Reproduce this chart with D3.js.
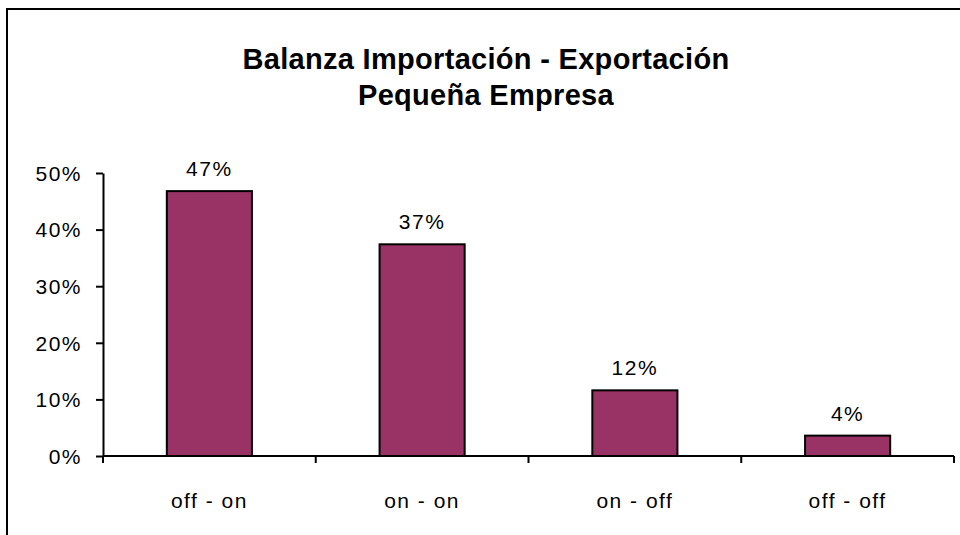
<!DOCTYPE html>
<html>
<head>
<meta charset="utf-8">
<script src="https://cdn.jsdelivr.net/npm/d3@7"></script>
<style>
    html, body { margin: 0; padding: 0; background: #fff; overflow: hidden; }
    svg { display: block; }
    svg text { font-family: "Liberation Sans", Arial, sans-serif; fill: #000; }
</style>
</head>
<body>
<svg id="chart"></svg>
<script>
const categories = ["off - on", "on - on", "on - off", "off - off"];
const shares = [46.8, 37.4, 11.6, 3.6];
const yTicks = [0, 10, 20, 30, 40, 50];
const titleLines = ["Balanza Importación - Exportación", "Pequeña Empresa"];

const width = 960,
    height = 535,
    margin = { top: 173, right: 6, bottom: 79, left: 103 },
    innerWidth = width - margin.left - margin.right,
    innerHeight = height - margin.top - margin.bottom;

const svg = d3.select("#chart")
    .attr("width", width)
    .attr("height", height)
    .attr("viewBox", `0 0 ${width} ${height}`);

// outer frame: only left and top edges are in view
svg.append("path")
    .attr("d", `M7,${height}V9H${width}`)
    .attr("fill", "none")
    .attr("stroke", "#000")
    .attr("stroke-width", 2);

svg.append("g")
    .selectAll("text")
    .data(titleLines)
    .enter()
    .append("text")
    .attr("x", 486)
    .attr("y", (d, i) => 69 + i * 36)
    .attr("text-anchor", "middle")
    .style("font-size", "29px")
    .style("font-weight", "bold")
    .style("letter-spacing", "0.3px")
    .text(d => d);

const x = d3.scaleBand()
    .domain(categories)
    .range([0, innerWidth])
    .paddingInner(0.6)
    .paddingOuter(0.3);

const y = d3.scaleLinear()
    .domain([0, 50])
    .range([innerHeight, 0]);

const g = svg.append("g")
    .attr("transform", `translate(${margin.left},${margin.top})`);

g.append("g")
    .selectAll("rect")
    .data(shares)
    .enter()
    .append("rect")
    .attr("x", (d, i) => x(categories[i]))
    .attr("y", d => y(d))
    .attr("width", x.bandwidth())
    .attr("height", d => innerHeight - y(d))
    .attr("fill", "#993366")
    .attr("stroke", "#000")
    .attr("stroke-width", 2);

g.append("g")
    .selectAll("text")
    .data(shares)
    .enter()
    .append("text")
    .attr("x", (d, i) => x(categories[i]) + x.bandwidth() / 2)
    .attr("y", d => y(d) - 15)
    .attr("text-anchor", "middle")
    .style("font-size", "21px")
    .style("letter-spacing", "1.5px")
    .text(d => Math.round(d) + "%");

// y axis
const yAxis = g.append("g")
    .call(d3.axisLeft(y).tickValues(yTicks).tickSize(7).tickSizeOuter(0).tickFormat(d => d + "%"));
yAxis.select(".domain").attr("stroke-width", 2);
yAxis.selectAll(".tick line").attr("stroke-width", 2);
yAxis.selectAll(".tick text")
    .attr("x", -21)
    .attr("dy", "0.35em")
    .style("font-size", "21px")
    .style("letter-spacing", "1.5px");

// x axis: ticks sit between categories
const step = innerWidth / categories.length;
const xAxis = g.append("g")
    .attr("transform", `translate(0,${innerHeight})`);
xAxis.append("line")
    .attr("x1", 0)
    .attr("x2", innerWidth)
    .attr("stroke", "#000")
    .attr("stroke-width", 2);
xAxis.selectAll(".sep")
    .data(d3.range(categories.length + 1))
    .enter()
    .append("line")
    .attr("class", "sep")
    .attr("x1", i => i * step)
    .attr("x2", i => i * step)
    .attr("y1", 0)
    .attr("y2", 7)
    .attr("stroke", "#000")
    .attr("stroke-width", 2);
xAxis.selectAll(".lbl")
    .data(categories)
    .enter()
    .append("text")
    .attr("class", "lbl")
    .attr("x", d => x(d) + x.bandwidth() / 2)
    .attr("y", 52)
    .attr("text-anchor", "middle")
    .style("font-size", "21px")
    .style("letter-spacing", "1.5px")
    .text(d => d);
</script>
</body>
</html>
